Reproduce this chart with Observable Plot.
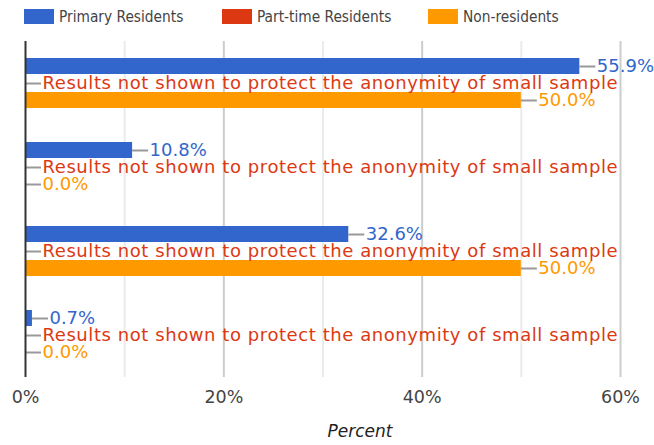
<!DOCTYPE html>
<html>
<head>
<meta charset="utf-8">
<script src="https://cdn.jsdelivr.net/npm/d3@7"></script>
<script src="https://cdn.jsdelivr.net/npm/@observablehq/plot@0.6"></script>
<style>
  html, body { margin: 0; padding: 0; background: #fff; }
  #wrap { width: 654px; }
  #legend { position: relative; height: 34px; font-family: "DejaVu Sans Condensed", "DejaVu Sans", sans-serif; font-size: 15.3px; color: #444; }
  .item { position: absolute; top: 9px; height: 15px; display: flex; align-items: center; white-space: nowrap; }
  .sw { width: 30px; height: 15px; margin-right: 5px; flex: none; }
</style>
</head>
<body>
<div id="wrap">
  <div id="legend"></div>
  <div id="chart"></div>
</div>
<script>
const groups = ["Group 1", "Group 2", "Group 3", "Group 4"];
const series = ["Primary Residents", "Part-time Residents", "Non-residents"];
const primaryResidents = [55.9, 10.8, 32.6, 0.7];
const partTimeResidents = [null, null, null, null]; // suppressed
const nonResidents = [50.0, 0.0, 50.0, 0.0];
const suppressedNote = "Results not shown to protect the anonymity of small sample";
const xTicks = [0, 20, 40, 60];
const majorGrid = [20, 40, 60];
const minorGrid = [10, 30, 50];
const colors = ["#3366cc", "#dc3912", "#ff9900"];
const legendLeft = [24, 222, 428];

const seriesValues = [primaryResidents, partTimeResidents, nonResidents];
const rows = [];
groups.forEach((g, gi) => {
  series.forEach((s, si) => {
    const v = seriesValues[si][gi];
    rows.push({
      group: g,
      series: s,
      value: v,
      pos: v == null ? 0 : v,
      label: v == null ? suppressedNote : v.toFixed(1) + "%"
    });
  });
});
const shown = rows.filter(d => d.value != null);
const notes = rows.filter(d => d.value == null);

// legend
const legend = document.getElementById("legend");
series.forEach((s, i) => {
  const it = document.createElement("div");
  it.className = "item";
  it.style.left = legendLeft[i] + "px";
  const sw = document.createElement("span");
  sw.className = "sw";
  sw.style.background = colors[i];
  const tx = document.createElement("span");
  tx.textContent = s;
  it.appendChild(sw);
  it.appendChild(tx);
  legend.appendChild(it);
});

const chart = Plot.plot({
  width: 654,
  height: 411,
  marginTop: 6,
  marginBottom: 68,
  marginLeft: 25,
  marginRight: 34,
  style: { fontFamily: "DejaVu Sans", background: "#fff" },
  x: { domain: [0, 60], axis: null },
  y: { domain: series, axis: null, paddingInner: 0.045, paddingOuter: 0.888 },
  fy: { domain: groups, axis: null, padding: 0 },
  color: { domain: series, range: colors },
  marks: [
    Plot.ruleX(minorGrid, { x: d => d, stroke: "#ebebeb", strokeWidth: 2 }),
    Plot.ruleX(majorGrid, { x: d => d, stroke: "#cccccc", strokeWidth: 2 }),
    Plot.barX(shown, { x: "value", y: "series", fy: "group", fill: "series" }),
    Plot.ruleY(rows, { y: "series", fy: "group", x1: "pos", x2: "pos", insetRight: -16, stroke: "#999", strokeWidth: 2 }),
    Plot.text(shown, { x: "pos", y: "series", fy: "group", text: "label", fill: "series", textAnchor: "start", dx: 17, fontSize: 18 }),
    Plot.text(notes, { x: "pos", y: "series", fy: "group", text: "label", fill: "series", textAnchor: "start", dx: 17, fontSize: 18 }),
    Plot.ruleX([0], { stroke: "#333", strokeWidth: 2 }),
    Plot.axisX({ ticks: xTicks, tickSize: 0, tickPadding: 13.5, tickFormat: d => d + "%", fontSize: 17.5, color: "#444" }),
    Plot.text([{ group: groups[groups.length - 1], t: "Percent" }], { fy: "group", text: "t", frameAnchor: "bottom", lineAnchor: "middle", dx: 37, dy: 54, fontStyle: "italic", fontSize: 17, fill: "#222" })
  ]
});
d3.select(chart).selectAll("text")
  .filter(function () { return this.textContent === suppressedNote; })
  .attr("letter-spacing", "0.57px");
document.getElementById("chart").appendChild(chart);
</script>
</body>
</html>
